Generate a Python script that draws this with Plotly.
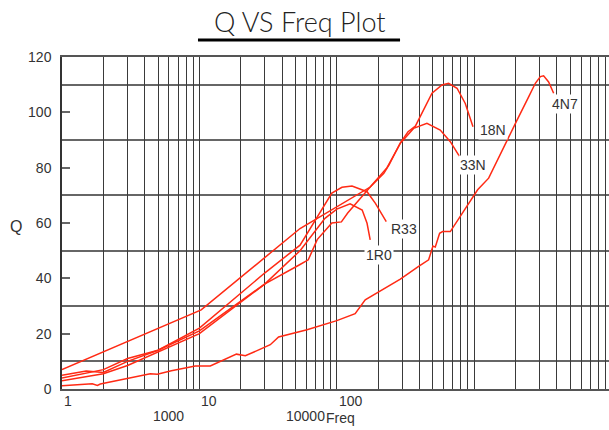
import plotly.graph_objects as go
import numpy as np

# ---- data ----
f_1R0 = [1, 2, 3, 10, 30, 54, 82, 100, 125, 153, 166, 175]
q_1R0 = [3, 5.5, 8.5, 20, 38, 50, 61.7, 65, 66.9, 64.7, 59.9, 53.9]

f_R33 = [1, 1.5, 2, 3, 5, 10, 30, 54, 92, 109, 129, 166, 191, 229]
q_R33 = [5, 6.5, 6, 10, 14, 22, 42, 52, 70.8, 72.9, 73.4, 71.3, 67.1, 60.5]

f_33N = [1, 10.3, 54, 175, 232, 290, 362, 453, 566, 670, 783]
q_33N = [7, 28.6, 58, 73, 80, 88.8, 94.2, 96, 93.6, 89.4, 84]

f_18N = [1, 2, 3, 5, 10, 30, 54, 62, 72, 92, 108, 120, 175, 220, 240, 290, 330, 373,
         493, 583, 651, 750, 861, 980]
q_18N = [4, 7, 11, 14, 21, 38, 45, 46.7, 54, 60, 60.4, 63.6, 73, 78, 81, 89, 93, 95,
         106.9, 109.9, 110.5, 108.7, 103.2, 94.8]

f_4N7 = [1.0, 1.66, 1.81, 1.90, 4.39, 4.94, 6.25, 9.33, 12.0, 18.6, 21.6, 32.8, 37.7,
         60.7, 100, 136, 161, 290, 394, 466, 501, 521, 560, 589, 670, 1059, 1274,
         1733, 2050, 2490, 2785, 3030, 3200, 3480, 3787]
q_4N7 = [1.2, 1.9, 1.3, 1.8, 5.5, 5.3, 6.6, 8.3, 8.3, 12.6, 12.0, 16.0, 18.8,
         21.4, 24.7, 27.2, 32.2, 39.7, 44.3, 46.7, 51.7, 51.3, 56.3, 56.9, 56.9, 72, 76.2,
         90, 97.2, 105.6, 110.5, 112.9, 113.2, 111, 106.9]

series = [("1R0", f_1R0, q_1R0), ("R33", f_R33, q_R33), ("33N", f_33N, q_33N),
          ("18N", f_18N, q_18N), ("4N7", f_4N7, q_4N7)]

# label positions (freq, Q)
label_pos = {"1R0": (204, 48.5), "R33": (310, 57.9), "33N": (984, 81),
             "18N": (1371, 93.6), "4N7": (4580, 103)}

y_ticks = [0, 20, 40, 60, 80, 100, 120]
x_top_labels = ["1", "10", "100"]
x_top_vals = [1, 10, 100]

FONT = "Liberation Sans, Arial"
RED = "#ff2a14"
fig = go.Figure()
for name, f, q in series:
    fig.add_trace(go.Scatter(x=f, y=q, mode="lines", name=name,
                             line=dict(color=RED, width=1.5), showlegend=False))

for name, (lx, ly) in label_pos.items():
    fig.add_annotation(x=np.log10(lx), y=ly, text=name, showarrow=False,
                       xref="x", yref="y", bgcolor="white",
                       font=dict(family=FONT, size=14, color="#333"))

for t, v in zip(x_top_labels, x_top_vals):
    fig.add_annotation(x=np.log10(v), y=-0.036, xref="x", yref="paper", text=t,
                       showarrow=False, xanchor="left", yanchor="middle",
                       font=dict(family=FONT, size=14, color="#333"))
fig.add_annotation(x=0.777, y=-0.081, xref="x", yref="paper", text="1000",
                   showarrow=False, xanchor="center", yanchor="middle",
                   font=dict(family=FONT, size=14, color="#333"))
fig.add_annotation(x=1.613, y=-0.081, xref="x", yref="paper", text="10000",
                   showarrow=False, xanchor="left", yanchor="middle",
                   font=dict(family=FONT, size=14, color="#333"))
fig.add_annotation(x=1.905, y=-0.088, xref="x", yref="paper", text="Freq",
                   showarrow=False, xanchor="left", yanchor="middle",
                   font=dict(family=FONT, size=14, color="#333"))
fig.add_annotation(x=-0.084, y=0.49, xref="paper", yref="paper", text="Q",
                   showarrow=False, xanchor="center", yanchor="middle",
                   font=dict(family=FONT, size=16, color="#333"))

# title + underline
fig.add_annotation(x=0.435, y=1.108, xref="paper", yref="paper", text="Q VS Freq Plot",
                   showarrow=False, xanchor="center", yanchor="middle",
                   font=dict(family="Lato", size=27, color="#222", weight=300))
fig.add_shape(type="line", xref="paper", yref="paper", x0=0.2486, x1=0.618,
              y0=1.051, y1=1.051, line=dict(color="black", width=3))

fig.update_xaxes(type="log", range=[0, 3.981], dtick="D1", showticklabels=False,
                 showgrid=True, gridcolor="#3a3a3a", gridwidth=1,
                 showline=True, linecolor="#555", linewidth=1.5, mirror=True,
                 ticks="", zeroline=False)
fig.update_yaxes(range=[0, 120], tickvals=y_ticks, ticks="inside", ticklen=8,
                 tickcolor="#666", tickwidth=1.5, showgrid=False, zeroline=False,
                 showline=True, linecolor="#333", linewidth=1.5,
                 ticklabelstandoff=6,
                 tickfont=dict(family=FONT, size=14, color="#333"),
                 minor=dict(tick0=10, dtick=20, showgrid=True, gridcolor="#666",
                            gridwidth=1.5, ticks=""))
fig.update_layout(width=609, height=430, margin=dict(l=62, r=0, t=57, b=41),
                  plot_bgcolor="white", paper_bgcolor="white")
# remove the default page margin so the figure sits at the window's corner
fig.write_html("out.html", config={"displayModeBar": False},
               post_script="document.body.style.margin='0';")
